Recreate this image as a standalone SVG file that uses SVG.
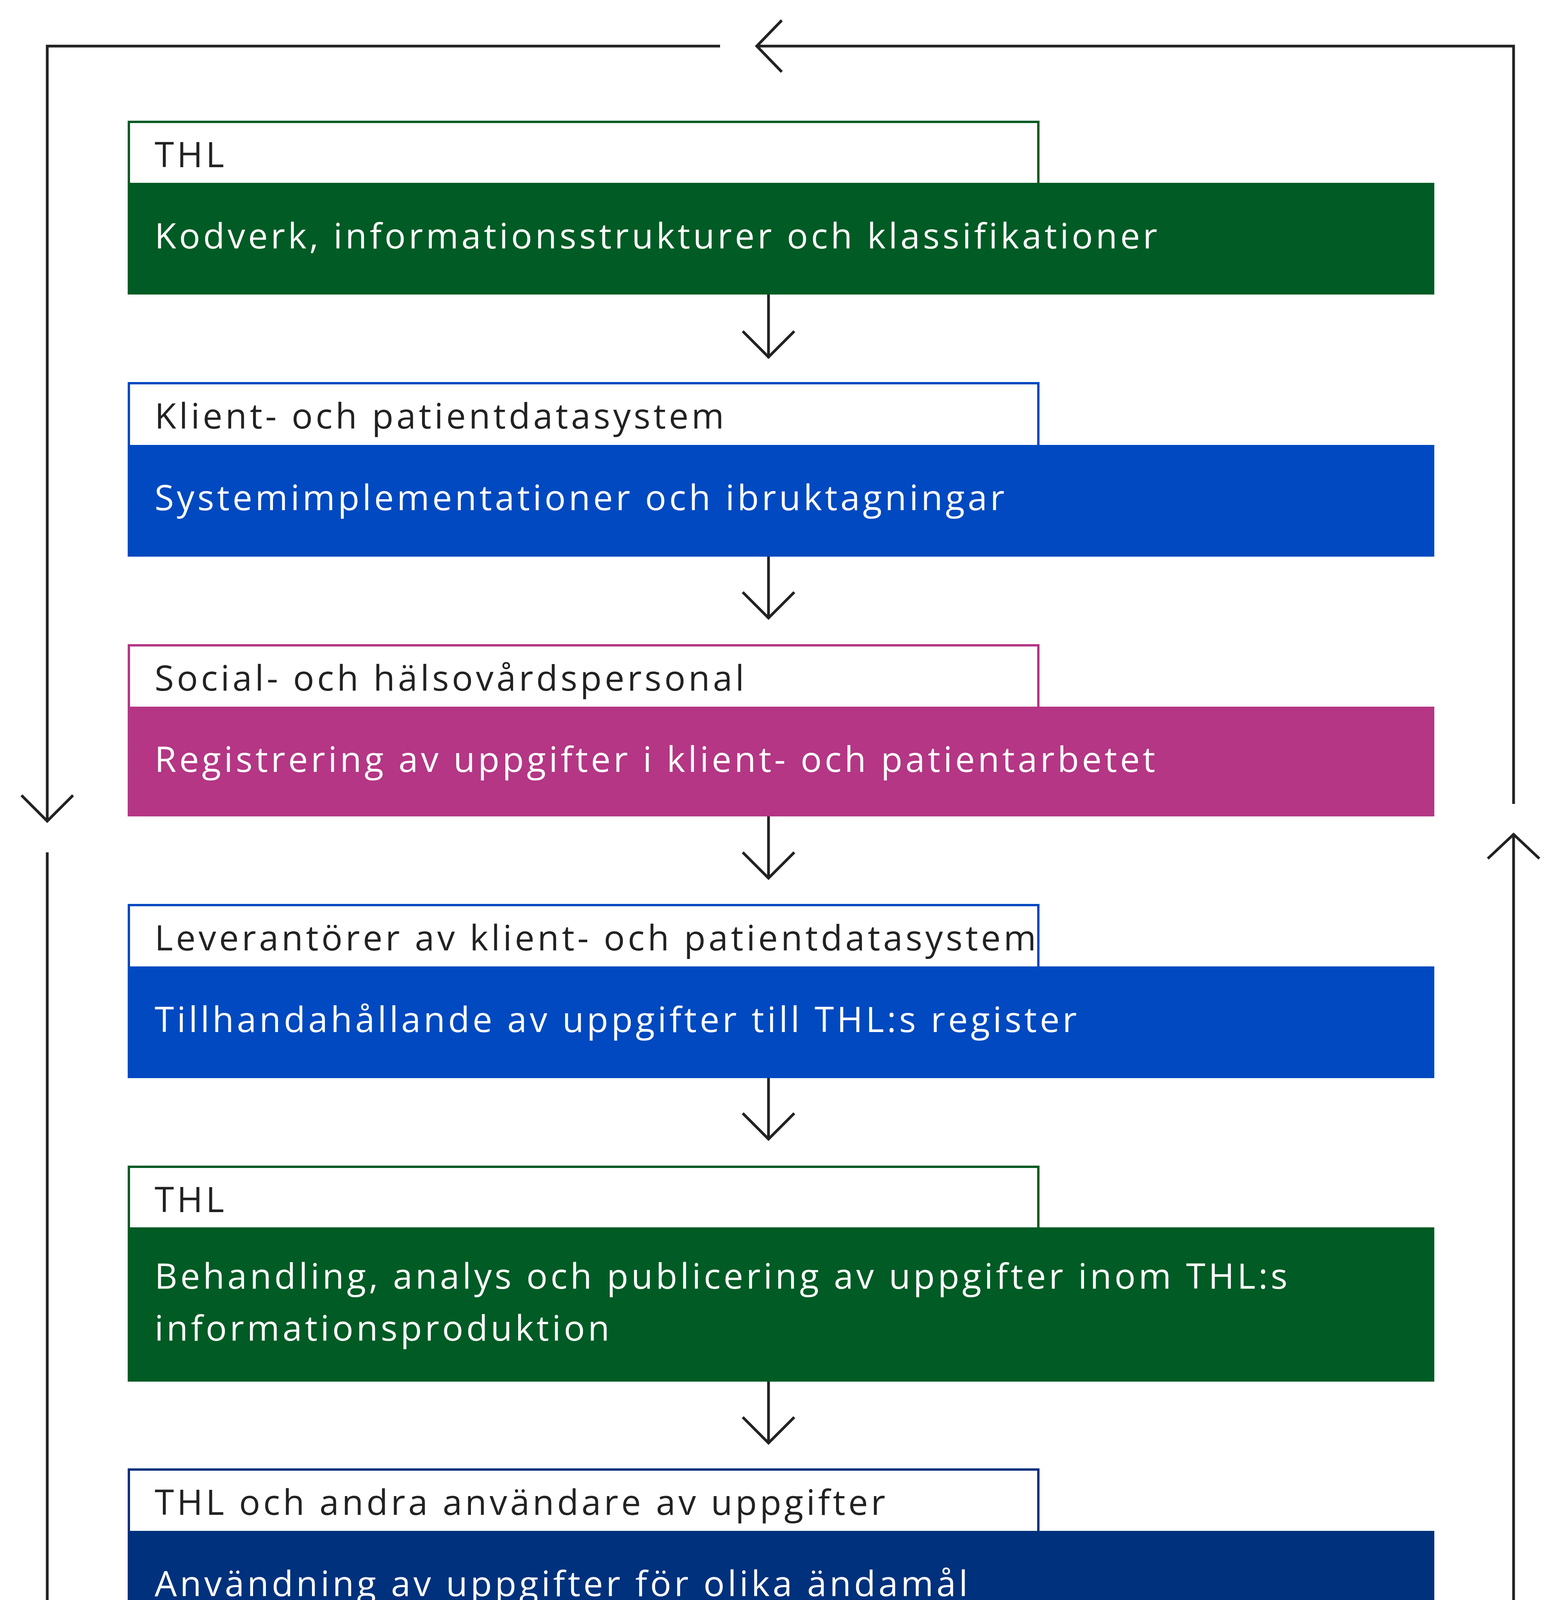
<svg xmlns="http://www.w3.org/2000/svg" width="4000" height="4515" viewBox="0 0 4000 4515">
<style>
.hd{fill:#fff;stroke-width:6}
.t{font-family:"Open Sans","Noto Sans",sans-serif;font-size:90px;letter-spacing:7.5px}
.w{fill:#fff}.k{fill:#222}
.ln{fill:none;stroke:#222;stroke-width:7}
</style>
<rect width="4000" height="4515" fill="#fff"/>
<g id="n1"><rect class="hd" x="330" y="312" width="2329" height="170" stroke="#005b24"/><rect x="327" y="468" width="3346" height="286" fill="#005b24"/><text class="t k" x="396" y="428">THL</text><text class="t w" x="396" y="636">Kodverk, informationsstrukturer och klassifikationer</text></g>
<g id="n2"><rect class="hd" x="330" y="981" width="2329" height="170" stroke="#0049c0"/><rect x="327" y="1139" width="3346" height="286" fill="#0049c0"/><text class="t k" x="396" y="1097">Klient- och patientdatasystem</text><text class="t w" x="396" y="1306">Systemimplementationer och ibruktagningar</text></g>
<g id="n3"><rect class="hd" x="330" y="1652" width="2329" height="170" stroke="#b43684"/><rect x="327" y="1809" width="3346" height="281" fill="#b43684"/><text class="t k" x="396" y="1768">Social- och hälsovårdspersonal</text><text class="t w" x="396" y="1976">Registrering av uppgifter i klient- och patientarbetet</text></g>
<g id="n4"><rect class="hd" x="330" y="2317" width="2329" height="170" stroke="#0049c0"/><rect x="327" y="2474" width="3346" height="286" fill="#0049c0"/><text class="t k" x="396" y="2433">Leverantörer av klient- och patientdatasystem</text><text class="t w" x="396" y="2642">Tillhandahållande av uppgifter till THL:s register</text></g>
<g id="n5"><rect class="hd" x="330" y="2987" width="2329" height="170" stroke="#005b24"/><rect x="327" y="3142" width="3346" height="395" fill="#005b24"/><text class="t k" x="396" y="3103">THL</text><text class="t w" x="396" y="3299">Behandling, analys och publicering av uppgifter inom THL:s</text><text class="t w" x="396" y="3432">informationsproduktion</text></g>
<g id="n6"><rect class="hd" x="330" y="3762" width="2329" height="170" stroke="#00317d"/><rect x="327" y="3919" width="3346" height="283" fill="#00317d"/><text class="t k" x="396" y="3878">THL och andra användare av uppgifter</text><text class="t w" x="396" y="4086">Användning av uppgifter för olika ändamål</text></g>
<g id="connectors" class="ln">
<path d="M1968 754V917M1902 848L1968 914L2034 848"/>
<path d="M1968 1425V1584M1902 1516L1968 1582L2034 1516"/>
<path d="M1968 2090V2250M1902 2182L1968 2248L2034 2182"/>
<path d="M1968 2760V2918M1902 2850L1968 2916L2034 2850"/>
<path d="M1968 3537V3696M1902 3628L1968 3694L2034 3628"/>
<path d="M1844 118H121V2104M55 2036L121 2102L187 2036"/>
<path d="M121 2182V4389H1862"/>
<path d="M1945 4389H3876V2134M3810 2198L3876 2136L3942 2198"/>
<path d="M3876 2058V118H1938M2002 52L1938 118L2002 184"/>
<path d="M1796 4323L1862 4389L1796 4455" stroke="#005b24"/>
</g>
</svg>
